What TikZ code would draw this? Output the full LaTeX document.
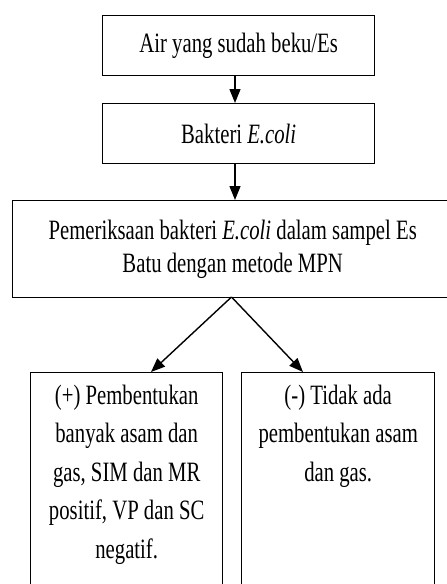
\documentclass[tikz,border=0pt]{standalone}
\usepackage{fontspec}
\setmainfont{Liberation Serif}[FakeStretch=0.74]
\usetikzlibrary{arrows.meta}
\begin{document}
\begin{tikzpicture}[x=1pt,y=-1pt,
  box/.style={draw, line width=1.4pt, inner sep=0pt, anchor=north west, align=center, font=\fontsize{28}{33}\selectfont},
  arr/.style={line width=1.4pt, -{Triangle[length=14pt,width=11pt]}}]
\clip (0,0) rectangle (447,584);
\node[box, minimum width=272, minimum height=60] (b1) at (102,15) {Air yang sudah beku/Es};
\node[box, minimum width=272, minimum height=60] (b2) at (102,103) {Bakteri \textit{E.coli}};
\node[box, minimum width=440, minimum height=97] (b3) at (12,200) {Pemeriksaan bakteri \textit{E.coli} dalam sampel Es\\Batu dengan metode MPN};
\node[box, minimum width=192, font=\fontsize{28}{38.5}\selectfont] (b4) at (30,372) {\parbox[c][260pt][t]{185pt}{\centering\vspace*{12pt}(+) Pembentukan\\banyak asam dan\\gas, SIM dan MR\\positif, VP dan SC\\negatif.}};
\node[box, minimum width=193, font=\fontsize{28}{38.5}\selectfont] (b5) at (241,372) {\parbox[c][260pt][t]{186pt}{\centering\vspace*{12pt}(-) Tidak ada\\pembentukan asam\\dan gas.}};
\coordinate (s3) at (231.5,297);
\draw[arr] (b1.south -| 235,0) -- (b2.north -| 235,0);
\draw[arr] (b2.south -| 235,0) -- (b3.north -| 235,0);
\draw[arr] (s3) -- (151,372);
\draw[arr] (s3) -- (303,372);
\end{tikzpicture}
\end{document}
